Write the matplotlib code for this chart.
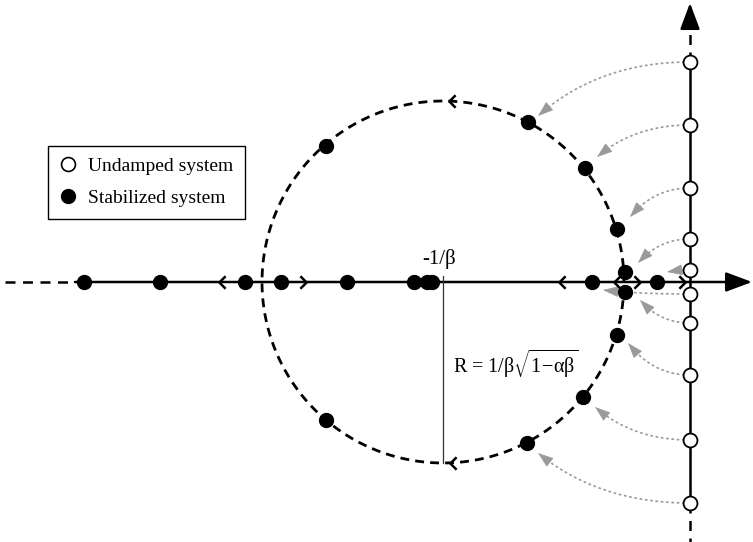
"""Root locus sketch: undamped poles on the imaginary axis moved onto the
stabilization circle of radius R = 1/beta * sqrt(1 - alpha*beta)."""
import numpy as np
import matplotlib
matplotlib.use("Agg")  # non-interactive backend
import matplotlib.pyplot as plt  # noqa: E402
from matplotlib.lines import Line2D  # noqa: E402
from matplotlib.path import Path  # noqa: E402

plt.rcParams["font.family"] = ["Liberation Serif", "DejaVu Serif"]
plt.rcParams["mathtext.fontset"] = "custom"
plt.rcParams["mathtext.rm"] = "Liberation Serif"
plt.rcParams["mathtext.it"] = "Liberation Serif"

# ── data (s-plane, arbitrary units) ─────────────────────────────────
center_re = -2.47          # -1/beta
radius = 1.81              # R

undamped_im = [2.20, 1.57, 0.94, 0.43, 0.12, -0.12, -0.41, -0.93, -1.58, -2.21]

real_roots = [-6.06, -5.30, -4.45, -4.09, -3.43, -2.76, -2.63, -2.58, -0.98, -0.33]
circle_re = [-3.64, -1.62, -1.05, -0.73, -0.65, -0.65, -0.73, -1.07, -1.63, -3.64]
circle_im = [1.36, 1.60, 1.14, 0.53, 0.10, -0.10, -0.53, -1.15, -1.61, -1.38]

# where each grey arrow (one per undamped pole) ends
arrow_tip_re = [-1.52, -0.93, -0.60, -0.52, -0.23, -0.87, -0.50, -0.62, -0.95, -1.52]
arrow_tip_im = [1.66, 1.25, 0.65, 0.19, 0.10, -0.08, -0.18, -0.61, -1.25, -1.71]

# direction markers along the locus
left_re = [-4.68, -1.28, -0.73, -2.38, -2.37]
left_im = [0.0, 0.0, 0.0, 1.81, -1.81]
right_re = [-3.87, -0.53, -0.08]
right_im = [0.0, 0.0, 0.0]

GREY = "#9a9a9a"
LW = 1.8

fig = plt.figure(figsize=(7.53, 5.42), dpi=100)
ax = fig.add_axes([0, 0, 1, 1])
ax.set_xlim(-6.90, 0.63)
ax.set_ylim(-2.60, 2.82)
ax.axis("off")

head = "-|>,head_length=1.6,head_width=0.6"

# ── axes ─────────────────────────────────────────────────────────────
ax.plot([-6.85, -6.15], [0, 0], color="k", lw=LW, dashes=(4, 3), zorder=2)
ax.annotate("", xy=(0.62, 0), xytext=(-6.15, 0),
            arrowprops=dict(arrowstyle=head, color="k", lw=LW,
                            shrinkA=0, shrinkB=0, mutation_scale=10), zorder=2)

ax.plot([0, 0], [undamped_im[-1], undamped_im[0]], color="k", lw=LW, zorder=2)
ax.plot([0, 0], [undamped_im[0], 2.58], color="k", lw=LW, dashes=(4, 3), zorder=2)
ax.plot([0, 0], [undamped_im[-1], -2.60], color="k", lw=LW, dashes=(4, 3), zorder=2)
ax.annotate("", xy=(0, 2.79), xytext=(0, 2.56),
            arrowprops=dict(arrowstyle=head, color="k", lw=LW,
                            shrinkA=0, shrinkB=0, mutation_scale=10), zorder=2)

# ── stabilization circle ─────────────────────────────────────────────
theta = np.linspace(0, 2 * np.pi, 500)
ax.plot(center_re + radius * np.cos(theta), radius * np.sin(theta),
        color="k", lw=2.0, dashes=(3.2, 2.2), zorder=2)

ax.plot([center_re, center_re], [0.06, -radius], color="#333333", lw=0.9, zorder=2)

# ── locus direction chevrons ────────────────────────────────────────
chev_left = Path([(0.5, 1.0), (-0.5, 0.0), (0.5, -1.0)],
                 [Path.MOVETO, Path.LINETO, Path.LINETO])
chev_right = Path([(-0.5, 1.0), (0.5, 0.0), (-0.5, -1.0)],
                  [Path.MOVETO, Path.LINETO, Path.LINETO])
ax.plot(left_re, left_im, ls="none", marker=chev_left, ms=9, mfc="none",
        mec="k", mew=1.8, zorder=3)
ax.plot(right_re, right_im, ls="none", marker=chev_right, ms=9, mfc="none",
        mec="k", mew=1.8, zorder=3)

# ── grey curved arrows: undamped -> stabilized ──────────────────────
t = np.linspace(0, 1, 80)
for y0, xe, ye in zip(undamped_im, arrow_tip_re, arrow_tip_im):
    cx, cy = xe + 0.4 * (0 - xe), y0     # start leaves horizontally
    bx = (1 - t) ** 2 * 0 + 2 * (1 - t) * t * cx + t ** 2 * xe
    by = (1 - t) ** 2 * y0 + 2 * (1 - t) * t * cy + t ** 2 * ye
    seg = np.hypot(np.diff(bx), np.diff(by))
    dist = np.concatenate([[0], np.cumsum(seg)])
    k = np.searchsorted(dist, dist[-1] - 0.10)
    ax.plot(bx[:k + 1], by[:k + 1], color=GREY, lw=1.2, dashes=(1.6, 1.6), zorder=1)
    ax.annotate("", xy=(xe, ye), xytext=(bx[k], by[k]),
                arrowprops=dict(arrowstyle="-|>,head_length=1.0,head_width=0.35",
                                color=GREY, lw=0.5, shrinkA=0, shrinkB=0,
                                mutation_scale=10), zorder=1)

# ── poles ────────────────────────────────────────────────────────────
ax.plot(real_roots, np.zeros(len(real_roots)), ls="none", marker="o", ms=10,
        mfc="k", mec="k", zorder=4)
ax.plot(circle_re, circle_im, ls="none", marker="o", ms=10,
        mfc="k", mec="k", zorder=4)
ax.plot(np.zeros(len(undamped_im)), undamped_im, ls="none", marker="o", ms=10,
        mfc="white", mec="k", mew=1.3, zorder=5)

# ── labels ───────────────────────────────────────────────────────────
ax.text(center_re - 0.04, 0.18, "-1/β", ha="center", va="baseline", fontsize=15)
ax.text(center_re + 0.10, -0.91, r"R = 1/β$\sqrt{1\!-\!αβ}$", ha="left",
        va="baseline", fontsize=14.5)

handles = [
    Line2D([], [], ls="none", marker="o", ms=10, mfc="white", mec="k", mew=1.2),
    Line2D([], [], ls="none", marker="o", ms=10, mfc="k", mec="k"),
]
leg = ax.legend(handles, ["Undamped system", "Stabilized system"],
                loc="upper left", bbox_to_anchor=(48 / 753, 1 - 146 / 542),
                borderaxespad=0, fancybox=False, edgecolor="k", framealpha=1,
                fontsize=14, handlelength=0.85, handletextpad=0.6,
                borderpad=0.6, labelspacing=0.72)
leg.get_frame().set_linewidth(1.0)

fig.savefig("out.png", dpi=100)
plt.close(fig)
